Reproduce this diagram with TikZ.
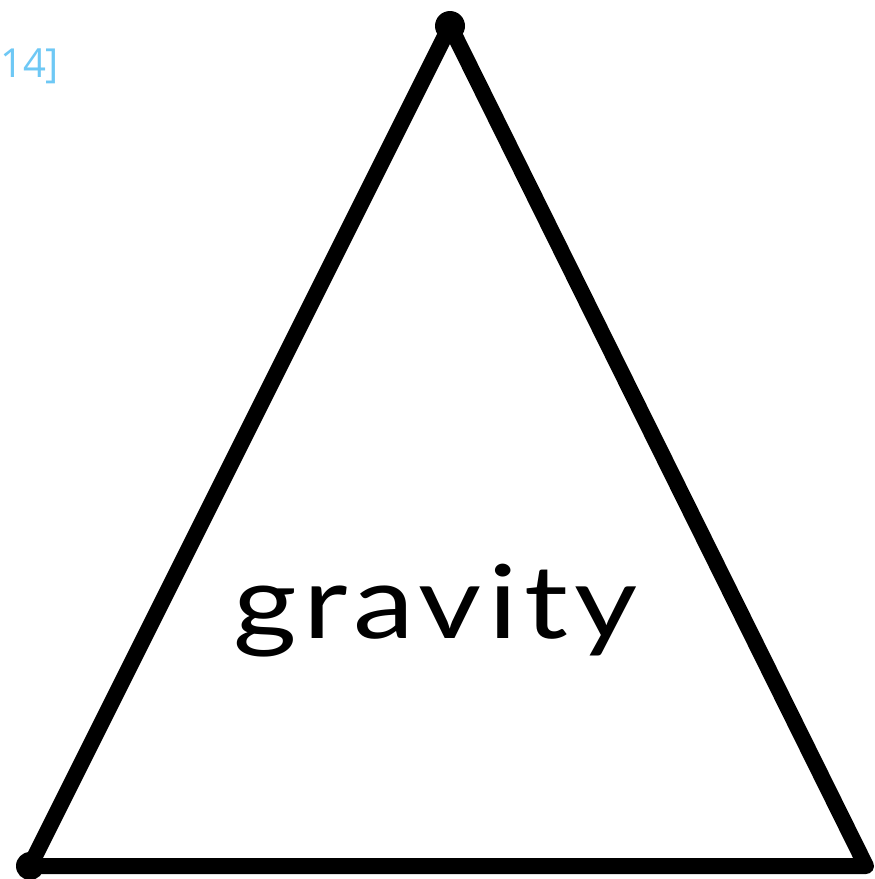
\documentclass[tikz,border=0pt]{standalone}
\usepackage{fontspec}
\newfontfamily\gravfont[FakeStretch=1.2,LetterSpace=6.2]{Lato}
\newfontfamily\labfont{Open Sans}
\definecolor{lightblue}{RGB}{110,200,245}
\begin{document}
\begin{tikzpicture}[x=1pt,y=-1pt,
  edge/.style={line width=16pt,line cap=round,line join=round,black},
  blob/.style={circle,fill=black,inner sep=0pt,minimum size=#1}]
\useasboundingbox (0,0) rectangle (875,879);
\fill[white] (0,0) rectangle (875,879);
\coordinate (A) at (450,26);
\coordinate (B) at (30,866);
\coordinate (C) at (866,866);
\draw[edge] (A) -- (B) -- (C) -- cycle;
\node[blob=30pt] (a) at (A) {};
\node[blob=28pt] (b) at (B) {};
\node (t) at (233,638) [anchor=base west,inner sep=0pt,font=\gravfont\fontsize{102}{110}\selectfont] {gravity};
\node (n) at (0,77) [anchor=base west,inner sep=0pt,text=lightblue,font=\labfont\fontsize{40}{48}\selectfont] {14]};
\end{tikzpicture}
\end{document}
